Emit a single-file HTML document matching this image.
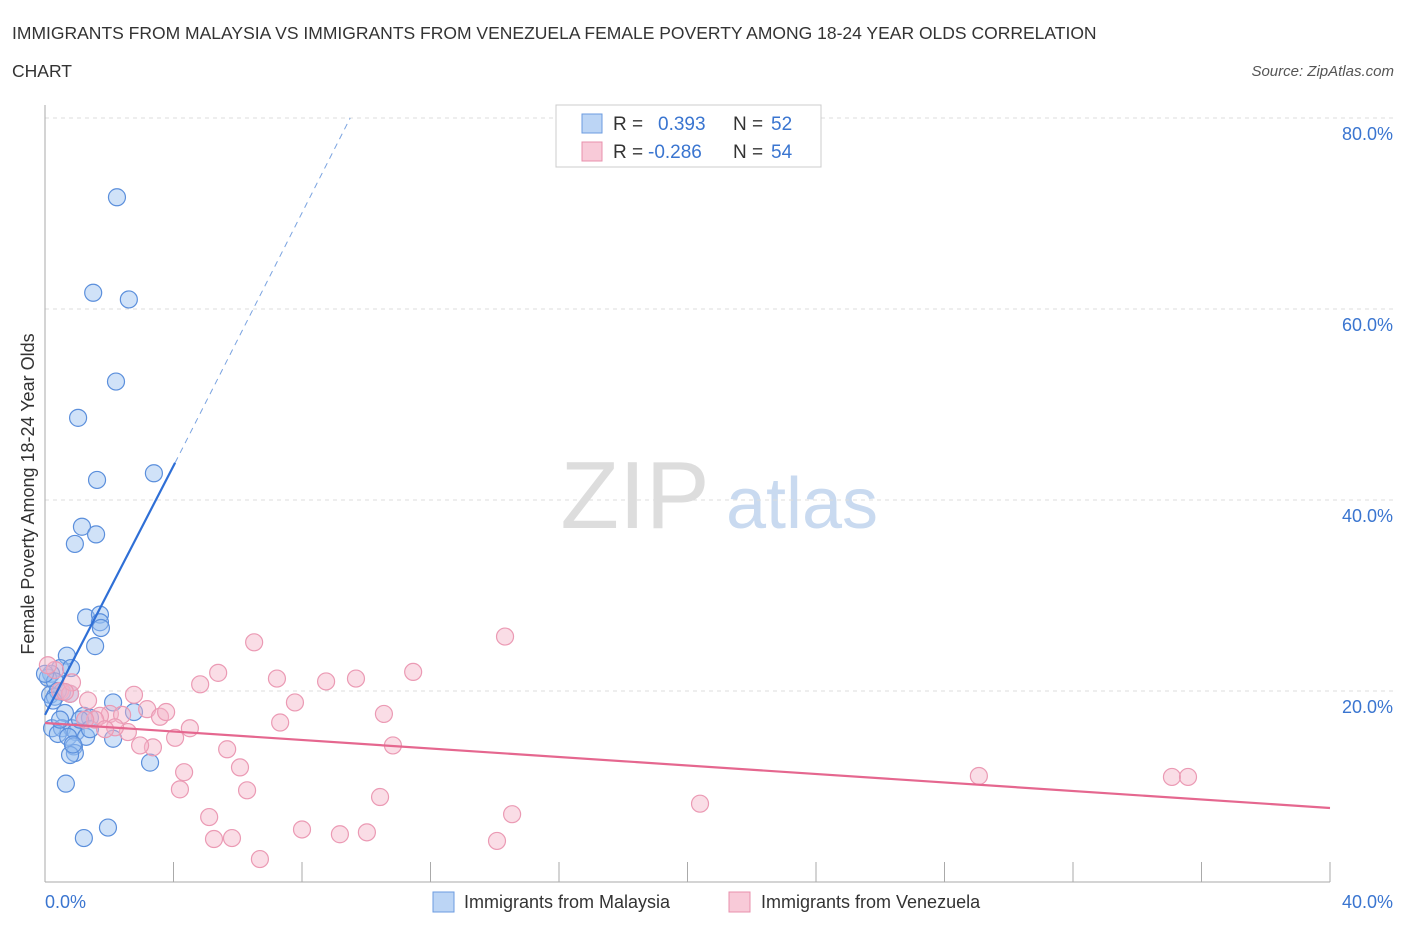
<!DOCTYPE html>
<html><head><meta charset="utf-8"><style>
body{margin:0;background:#fff;font-family:"Liberation Sans",sans-serif;}
svg text{font-family:"Liberation Sans",sans-serif;}
</style></head><body>
<svg width="1406" height="930">
<text x="12" y="39" font-size="17.5" fill="#333">IMMIGRANTS FROM MALAYSIA VS IMMIGRANTS FROM VENEZUELA FEMALE POVERTY AMONG 18-24 YEAR OLDS CORRELATION</text>
<text x="12" y="77" font-size="17.5" fill="#333">CHART</text>
<text x="1394" y="76" font-size="15" fill="#555" font-style="italic" text-anchor="end">Source: ZipAtlas.com</text>
<text x="635" y="528" font-size="96" fill="#ddd" font-family="Liberation Serif" text-anchor="middle">ZIP</text>
<text x="802" y="528" font-size="72" fill="#c9daf0" text-anchor="middle">atlas</text>
<text transform="translate(34,494) rotate(-90)" font-size="18" fill="#333" text-anchor="middle">Female Poverty Among 18-24 Year Olds</text>
<g id="grid"></g><g id="axes"></g><g id="pts"></g><g id="lines"></g>
<g>
<rect x="556" y="105" width="265" height="62" fill="#fff" stroke="#ccc"/>
<rect x="582" y="114" width="20" height="19" fill="#bcd5f5" stroke="#6b9be0"/>
<text x="613" y="130" font-size="19" fill="#333">R =</text><text x="658" y="130" font-size="19" fill="#3a75d0">0.393</text>
<text x="733" y="130" font-size="19" fill="#333">N =</text><text x="771" y="130" font-size="19" fill="#3a75d0">52</text>
<rect x="582" y="142" width="20" height="19" fill="#f8cad8" stroke="#e890ac"/>
<text x="613" y="158" font-size="19" fill="#333">R =</text><text x="648" y="158" font-size="19" fill="#3a75d0">-0.286</text>
<text x="733" y="158" font-size="19" fill="#333">N =</text><text x="771" y="158" font-size="19" fill="#3a75d0">54</text>
</g>
<g>
<rect x="433" y="892" width="21" height="20" fill="#bcd5f5" stroke="#6b9be0"/>
<text x="464" y="908" font-size="18" fill="#333">Immigrants from Malaysia</text>
<rect x="729" y="892" width="21" height="20" fill="#f8cad8" stroke="#e890ac"/>
<text x="761" y="908" font-size="18" fill="#333">Immigrants from Venezuela</text>
</g>
<text x="45" y="908" font-size="18" fill="#3a75d0">0.0%</text>
<text x="1393" y="908" font-size="18" fill="#3a75d0" text-anchor="end">40.0%</text>
</svg>
<script>
const yTicks=[20,40,60,80];
const xTicks=[0,4,8,12,16,20,24,28,32,36,40];
const blueX=[2.24,1.5,2.61,2.21,1.03,1.62,3.39,1.15,0.93,1.59,1.28,1.71,1.71,1.74,1.56,0.68,0.47,0.81,0.19,0.09,0.31,0.53,0.16,0.31,2.12,0.78,0.62,1.21,2.77,0.22,0.53,0.84,0.96,0.40,1.40,1.09,0.72,0.90,0.93,0.78,2.12,3.27,0.65,1.96,1.21,0.40,0.0,0.25,1.28,0.87,1.40,0.47];
const blueY=[71.7,61.7,61.0,52.4,48.6,42.1,42.8,37.2,35.4,36.4,27.7,28.0,27.2,26.6,24.7,23.7,22.4,22.4,21.8,21.4,21.0,19.9,19.6,19.4,18.8,19.7,17.7,17.4,17.8,16.1,16.1,16.1,15.7,15.5,17.2,17.0,15.2,14.2,13.5,13.3,15.0,12.5,10.3,5.7,4.6,20.0,21.8,19.0,15.2,14.4,16.0,17.0];
const pinkX=[6.51,14.32,11.46,5.39,7.22,8.75,9.68,4.83,7.78,2.77,3.18,3.58,3.77,10.55,7.32,4.51,2.02,1.71,2.58,10.83,4.05,3.36,5.67,6.07,4.33,4.20,6.29,10.43,14.54,20.39,29.07,35.08,35.58,5.11,8.00,9.18,10.02,5.82,5.26,6.69,14.07,0.31,0.09,0.47,0.78,1.34,1.56,2.40,2.18,2.96,1.25,1.87,0.84,0.62];
const pinkY=[25.1,25.7,22.0,21.9,21.3,21.0,21.3,20.7,18.8,19.6,18.1,17.3,17.8,17.6,16.7,16.1,17.6,17.4,15.7,14.3,15.1,14.1,13.9,12.0,11.5,9.7,9.6,8.9,7.1,8.2,11.1,11.0,11.0,6.8,5.5,5.0,5.2,4.6,4.5,2.4,4.3,destroyNaN(destroyNaN(destroyNaN(destroyNaN(destroyNaN(destroyNaN(destroyNaN(destroyNaN(destroyNaN(destroyNaN(destroyNaN(destroyNaN(destroyNaN(destroyNaN(destroyNaN(destroyNaN(22.2)))))))))))))))),22.7,20.0,19.7,19.0,17.0,17.5,16.2,14.3,17.0,16.0,20.9,19.9];
function destroyNaN(v){return v;}
const blueFit=[[0,17.5],[4.05,43.9]], blueFitExt=[[4.05,43.9],[9.5,80]];
const pinkFit=[[0,16.65],[40,7.75]];
const X=v=>45+v*32.125, Y=v=>882-v*9.55;
const NS='http://www.w3.org/2000/svg';
function mk(tag,attrs,parent){const e=document.createElementNS(NS,tag);for(const k in attrs)e.setAttribute(k,attrs[k]);document.getElementById(parent).appendChild(e);return e;}
yTicks.forEach(t=>{
 const l=mk('line',{x1:45,x2:1393,y1:Y(t),y2:Y(t),stroke:'#ddd','stroke-dasharray':'4,4'},'grid');
 
 
 const tx=mk('text',{x:1393,y:Y(t)+22,'font-size':18,fill:'#3a75d0','text-anchor':'end'},'grid');
 tx.textContent=t.toFixed(1)+'%';
 
 
});
const ya=mk('line',{x1:45,x2:45,y1:105,y2:882,stroke:'#aaa'},'axes');


const xa=mk('line',{x1:45,x2:1330,y1:882,y2:882,stroke:'#aaa'},'axes');


xTicks.forEach(t=>{
 const l=mk('line',{x1:X(t),x2:X(t),y1:882,y2:862,stroke:'#aaa'},'axes');
 
 
});
blueX.forEach((v,i)=>{
 const c=mk('circle',{cx:X(v),cy:Y(blueY[i]),r:8.5,fill:'rgba(150,190,240,0.45)',stroke:'#5b8fdc','stroke-width':1.2},'pts');
 
 
});
pinkX.forEach((v,i)=>{
 const c=mk('circle',{cx:X(v),cy:Y(pinkY[i]),r:8.5,fill:'rgba(245,180,200,0.45)',stroke:'#eb9ab4','stroke-width':1.2},'pts');
 
 
});
const b=mk('line',{x1:X(blueFit[0][0]),y1:Y(blueFit[0][1]),x2:X(blueFit[1][0]),y2:Y(blueFit[1][1]),stroke:'#2f6fd6','stroke-width':2.2},'lines');


const bd=mk('line',{x1:X(blueFitExt[0][0]),y1:Y(blueFitExt[0][1]),x2:X(blueFitExt[1][0]),y2:Y(blueFitExt[1][1]),stroke:'#7aa3e0','stroke-width':1,'stroke-dasharray':'6,5'},'lines');


const p=mk('line',{x1:X(pinkFit[0][0]),y1:Y(pinkFit[0][1]),x2:X(pinkFit[1][0]),y2:Y(pinkFit[1][1]),stroke:'#e5678f','stroke-width':2.2},'lines');


</script>
</body></html>
